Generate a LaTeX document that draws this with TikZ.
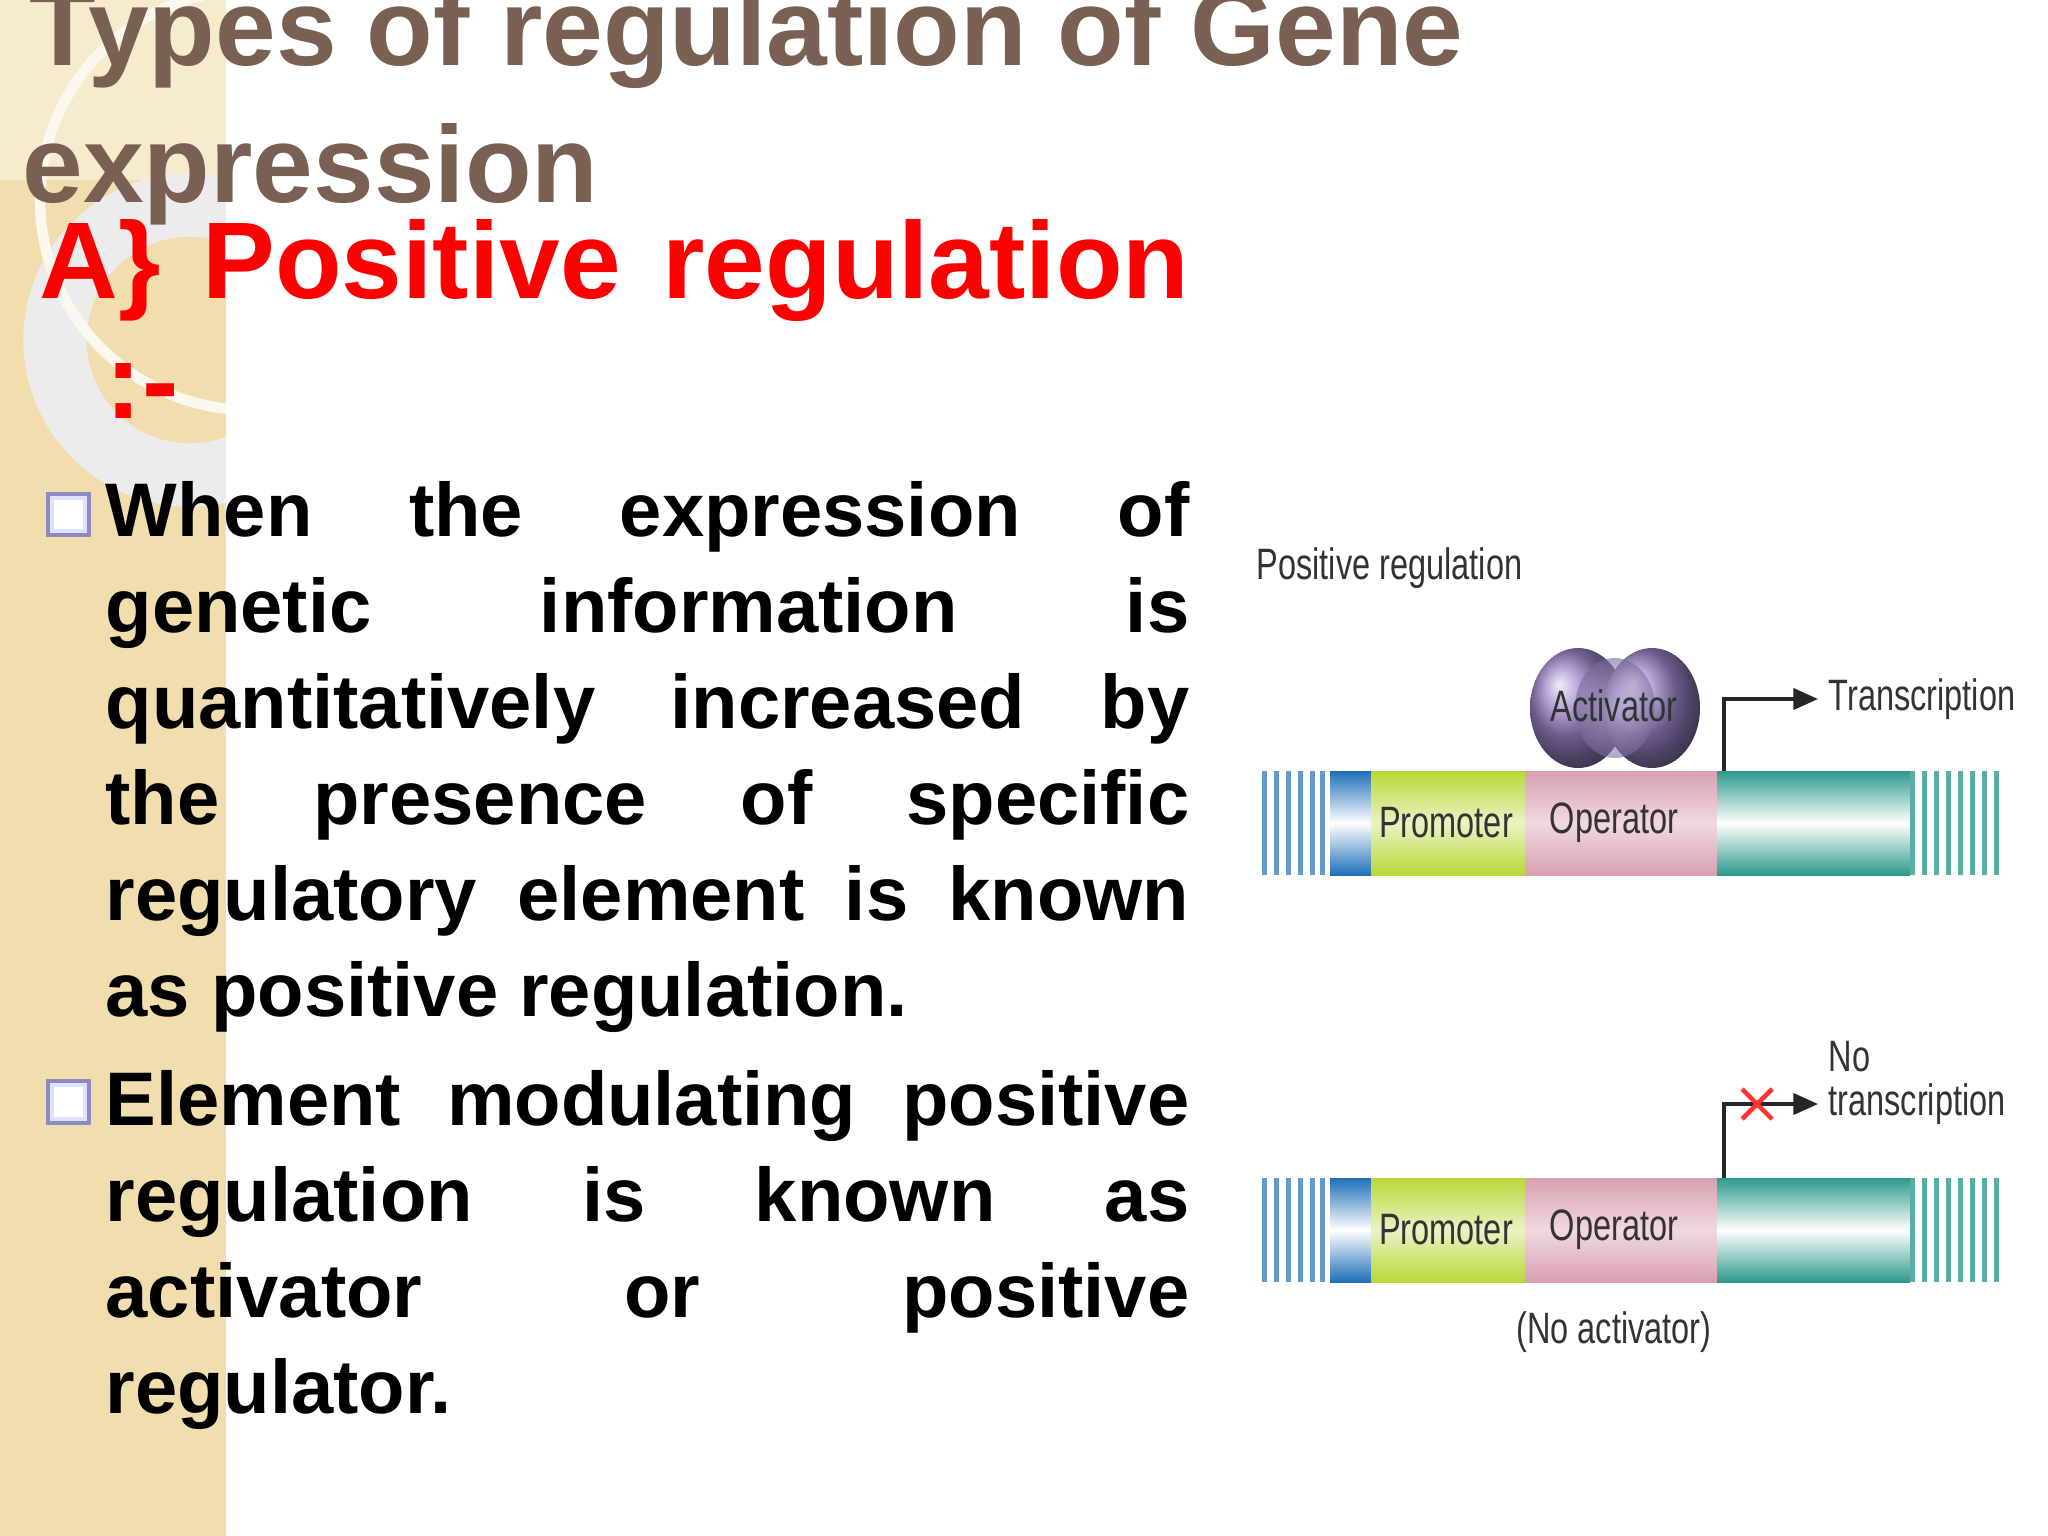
\documentclass[tikz,border=0pt]{standalone}
\usepackage{fontspec}
\setmainfont{Liberation Sans}
\usetikzlibrary{arrows.meta}
\definecolor{beige}{HTML}{F2DDAE}
\definecolor{titlebrown}{HTML}{7A6052}
\definecolor{tealb}{HTML}{2E9A8C}
\definecolor{greenb}{HTML}{B8D838}
\definecolor{pinkb}{HTML}{D9A0B0}
\definecolor{blueb}{HTML}{1F6FB8}
\definecolor{purp}{HTML}{9C84C8}
\tikzset{
  body/.style={anchor=north west,inner sep=0pt,text width=10.83cm,align=justify,font=\fontsize{21.6}{27.3}\selectfont\bfseries},
  lbl/.style={font=\fontsize{12.5}{15}\selectfont,xscale=0.74,text=black!80,inner sep=0pt},
  arr/.style={draw=black!85,line width=1pt,-{Triangle[length=7pt,width=6pt]}},
  bul/.style={draw=blue!30!gray!70,fill=blue!12,line width=1pt}
}
\begin{document}
\begin{tikzpicture}[x=0.01cm,y=-0.01cm]
\useasboundingbox (0,0) rectangle (2048,1536);
\fill[white] (0,0) rectangle (2048,1536);
% sidebar
\fill[beige] (0,0) rectangle (226,1536);
\fill[beige!60!white] (0,0) rectangle (226,180);
\begin{scope}
\clip (0,0) rectangle (226,1536);
\draw[white!85!gray,line width=18pt] (190,340) circle (135);
\draw[white!80!beige,line width=3pt] (250,200) circle (210);
\end{scope}
% title
\node[anchor=base west,inner sep=0pt,text=titlebrown,font=\fontsize{31}{33}\selectfont\bfseries] (t1) at (29,65) {Types of regulation of Gene};
\node[anchor=base west,inner sep=0pt,text=titlebrown,font=\fontsize{31}{33}\selectfont\bfseries] (t2) at (22,202) {expression};
\node[anchor=base west,inner sep=0pt,text=red,text width=11.49cm,font=\fontsize{31}{33}\selectfont\bfseries] (h) at (39,298) {A\}\hfill Positive\hfill regulation};
\node[anchor=base west,inner sep=0pt,text=red,font=\fontsize{31}{33}\selectfont\bfseries] (hc) at (105,418) {:-};
% bullets
\draw[bul] (48,494) rectangle (89,535);
\fill[white] (54,500) rectangle (83,529);
\draw[bul] (48,1081) rectangle (89,1123);
\fill[white] (54,1087) rectangle (83,1117);
\node[body] (p1) at (105,481) {When the expression of\linebreak genetic information is\linebreak quantitatively increased by\linebreak the presence of specific\linebreak regulatory element is known\linebreak as positive regulation.};
\node[body] (p2) at (105,1070) {Element modulating positive\linebreak regulation is known as\linebreak activator or positive\linebreak regulator.};
% diagram
\node[lbl,anchor=west] (pr) at (1256,568) {Positive regulation};
\foreach \y/\n in {771/a,1178/b}{
  \pgfmathsetmacro{\yb}{\y+104}
  \shade[top color=blueb,bottom color=blueb,middle color=white] (1330,\y) rectangle (1371,\yb);
  \foreach \xx in {1262,1274,1286,1298,1310,1320}{\fill[blueb!70] (\xx,\y) rectangle ++(5,104);}
  \shade[top color=greenb,bottom color=greenb,middle color=white!70!greenb] (1371,\y) rectangle (1525,\yb);
  \shade[top color=pinkb,bottom color=pinkb,middle color=white!60!pinkb] (1525,\y) rectangle (1717,\yb);
  \shade[top color=tealb,bottom color=tealb,middle color=white] (1717,\y) rectangle (1910,\yb);
  \foreach \xx in {1910,1922,1934,1946,1958,1970,1982,1994}{\fill[tealb!80] (\xx,\y) rectangle ++(5,104);}
}
\node[lbl] (pm1) at (1446,823) {Promoter};
\node[lbl] (op1) at (1614,823) {Operator};
\node[lbl] (pm2) at (1446,1230) {Promoter};
\node[lbl] (op2) at (1614,1230) {Operator};
% activator
\shade[ball color=purp] (1578,708) ellipse (48 and 60);
\shade[ball color=purp] (1652,708) ellipse (48 and 60);
\shade[inner color=purp!50!white,outer color=purp!80!black,opacity=0.6] (1615,708) ellipse (40 and 50);
\node[lbl] (act) at (1614,706) {Activator};
% arrows
\coordinate (s1) at (1724,771);
\coordinate (c1) at (1724,699);
\coordinate (e1) at (1818,699);
\draw[arr] (s1) -- (c1) -- (e1);
\node[lbl,anchor=west] (tr) at (1828,699) {Transcription};
\coordinate (s2) at (1724,1178);
\coordinate (c2) at (1724,1104);
\coordinate (e2) at (1818,1104);
\draw[arr] (s2) -- (c2) -- (e2);
\draw[red!80,line width=1.3pt] (1742,1089) -- (1772,1119) (1742,1119) -- (1772,1089);
\node[lbl,anchor=west] (no) at (1828,1057) {No};
\node[lbl,anchor=west] (ntr) at (1828,1104) {transcription};
\node[lbl] (na) at (1614,1332) {(No activator)};
\end{tikzpicture}
\end{document}
